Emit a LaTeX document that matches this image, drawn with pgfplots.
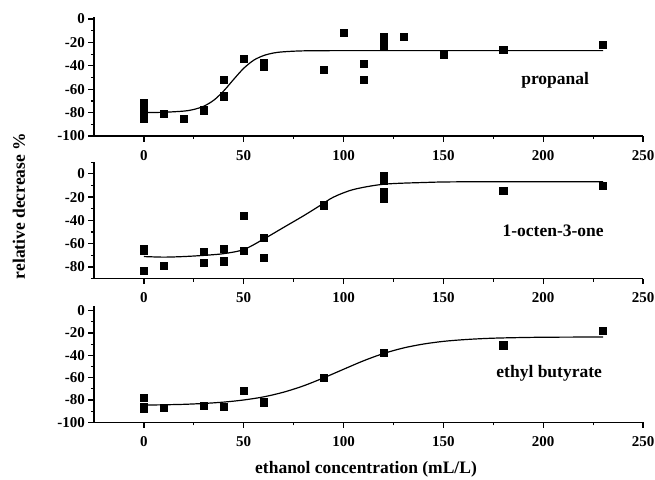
\documentclass[border=0pt]{standalone}
\usepackage{fontspec}
\setmainfont{Liberation Serif}
\usepackage{pgfplots}
\pgfplotsset{compat=1.18}

\pgfplotsset{
  panel/.style={
    scale only axis, width=549pt, xmin=-25, xmax=250,
    axis x line*=bottom, axis y line*=left,
    xtick={0,50,...,250}, minor x tick num=1,
    tick align=outside, major tick length=5.5pt, minor tick length=3pt,
    axis line style={-, line width=1.5pt},
    every tick/.style={line width=1.2pt, black},
    /pgf/number format/assume math mode=true,
    ticklabel style={font=\fontsize{15}{17}\selectfont\bfseries},
    xticklabel style={yshift=-5pt},
    anchor=south west,
  },
  pts/.style={only marks, mark=square*, mark size=3.6pt, black},
  fit/.style={no marks, smooth, line width=1.2pt, black},
}
\tikzset{lab/.style={font=\fontsize{17.5}{20}\selectfont\bfseries}}

\begin{document}
\begin{tikzpicture}[x=1pt,y=1pt]
\path[use as bounding box] (0,0) rectangle (655,-479);

% propanal
\begin{axis}[panel, at={(94pt,-136pt)}, height=119.3pt, ymin=-100, ymax=2,
  ytick={-100,-80,...,0}, minor ytick={-90,-70,...,-10}]
\addplot[fit] coordinates {(0,-80) (10,-79.7) (20,-78.7) (25,-77.3) (30,-74.5) (35,-69.4)
  (40,-61.4) (45,-51.5) (50,-42.1) (55,-35.2) (60,-31.2) (65,-29) (70,-28) (80,-27.2)
  (100,-27) (150,-27) (230,-27)};
\addplot[pts] coordinates {(0,-72) (0,-75) (0,-78) (0,-81) (0,-83) (0,-85.5) (10,-81)
  (20,-85) (30,-78) (40,-52) (40,-66) (50,-34) (60,-37) (60,-41) (90,-43) (100,-12)
  (110,-38) (110,-52) (120,-15) (120,-19) (120,-23) (130,-15) (150,-30) (180,-26) (230,-22)};
\node[lab] at (axis cs:206,-52) {propanal};
\end{axis}

% 1-octen-3-one
\begin{axis}[panel, at={(94pt,-278.7pt)}, height=116.6pt, ymin=-90, ymax=10,
  ytick={-80,-60,...,0}, minor ytick={-90,-70,...,10}]
\addplot[fit] coordinates {(0,-71) (10,-71.5) (20,-71) (30,-70) (40,-68.5) (50,-65)
  (60,-56) (70,-46) (80,-36) (88,-27.5) (95,-20) (105,-13.5) (120,-9) (140,-7.5)
  (160,-6.9) (230,-6.9)};
\addplot[pts] coordinates {(0,-64) (0,-66) (0,-83) (10,-79) (30,-67) (30,-76) (40,-64)
  (40,-75) (50,-36) (50,-66) (60,-55) (60,-72) (90,-27) (120,-2) (120,-5.5) (120,-15.5)
  (120,-21) (180,-14.6) (230,-10)};
\node[lab] at (axis cs:205,-49) {1-octen-3-one};
\end{axis}

% ethyl butyrate
\begin{axis}[panel, at={(94pt,-422.3pt)}, height=116.1pt, ymin=-100, ymax=4,
  ytick={-100,-80,...,0}, minor ytick={-90,-70,...,-10}]
\addplot[fit] coordinates {(0,-84.6) (10,-84.3) (20,-83.9) (30,-83.1) (40,-81.9) (50,-80)
  (60,-77.2) (70,-73) (80,-67.3) (90,-60.2) (100,-52.5) (110,-44.9) (120,-38.4)
  (130,-33.4) (140,-29.9) (150,-27.5) (160,-26) (170,-25) (180,-24.4) (200,-23.8) (230,-23.6)};
\addplot[pts] coordinates {(0,-77.6) (0,-86) (0,-87.5) (10,-87) (30,-85) (40,-86.3)
  (50,-71.7) (60,-82) (90,-60) (120,-38) (180,-31) (230,-17.6)};
\node[lab] at (axis cs:203,-56) {ethyl butyrate};
\end{axis}

\node[lab, rotate=90] at (19,-206) {relative decrease \%};
\node[lab] at (366,-469) {ethanol concentration (mL/L)};
\end{tikzpicture}
\end{document}
